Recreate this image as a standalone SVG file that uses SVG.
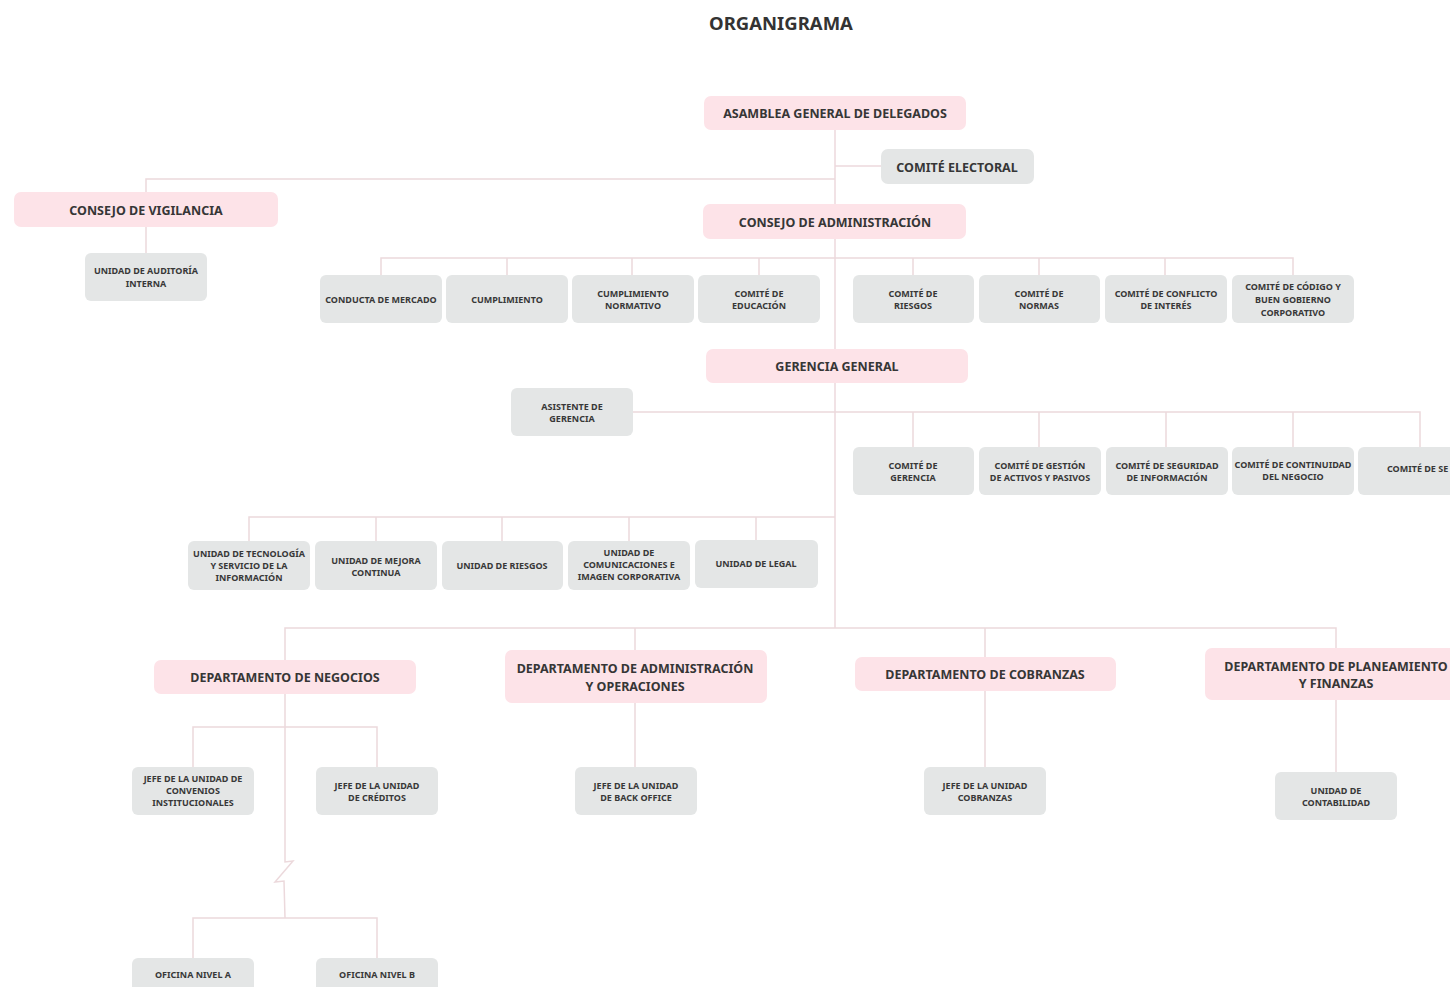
<svg xmlns="http://www.w3.org/2000/svg" width="1450" height="987" viewBox="0 0 1450 987">
<style>
text{font-family:"Noto Sans","Open Sans","Liberation Sans",sans-serif;font-weight:bold;text-anchor:middle;dominant-baseline:central}
.p{fill:#fde3e8}
.g{fill:#e4e6e6}
.t{font-size:12.5px;fill:#363636}
.m{font-size:12.5px;fill:#363636}
.s{font-size:9px;fill:#383838}
.title{font-size:18.5px;fill:#333}
.c{fill:none;stroke:#ecd9dc;stroke-width:1.5}
</style>
<rect width="1450" height="987" fill="#ffffff"/>
<text class="title" x="781" y="22">ORGANIGRAMA</text>

<g id="connectors">
<path class="c" d="M835 130V628"/>
<path class="c" d="M835 166H881"/>
<path class="c" d="M835 179H146V192M146 227V253"/>
<path class="c" d="M381 275V258H1293V275M507 258V275M632 258V275M759 258V275M913 258V275M1039 258V275M1165 258V275"/>
<path class="c" d="M633 412H1420V447M913 412V447M1039 412V447M1166 412V447M1293 412V447"/>
<path class="c" d="M835 517H249V541M376 517V541M502 517V541M629 517V541M756 517V540"/>
<path class="c" d="M285 660V628H1336V648M635 628V650M985 628V657"/>
<path class="c" d="M285 694V862L293 861L275 882L284 881L285 918"/>
<path class="c" d="M193 767V727H377V767"/>
<path class="c" d="M193 958V918H377V958"/>
<path class="c" d="M635 703V767M985 691V767M1336 700V772"/>
</g>

<g id="asamblea"><rect class="p" x="704" y="96" width="262" height="34" rx="7"/><text class="t" x="835" y="113">ASAMBLEA GENERAL DE DELEGADOS</text></g>
<g id="comite-electoral"><rect class="g" x="881" y="149" width="153" height="35" rx="7"/><text class="m" x="957" y="167">COMITÉ ELECTORAL</text></g>
<g id="consejo-vigilancia"><rect class="p" x="14" y="192" width="264" height="35" rx="7"/><text class="m" x="146" y="210">CONSEJO DE VIGILANCIA</text></g>
<g id="auditoria"><rect class="g" x="85" y="253" width="122" height="48" rx="6"/><text class="s" x="146" y="270">UNIDAD DE AUDITORÍA</text><text class="s" x="146" y="283">INTERNA</text></g>
<g id="consejo-administracion"><rect class="p" x="703" y="204" width="263" height="35" rx="7"/><text class="m" x="835" y="222">CONSEJO DE ADMINISTRACIÓN</text></g>

<g id="conducta-mercado"><rect class="g" x="320" y="275" width="122" height="48" rx="6"/><text class="s" x="381" y="299">CONDUCTA DE MERCADO</text></g>
<g id="cumplimiento"><rect class="g" x="446" y="275" width="122" height="48" rx="6"/><text class="s" x="507" y="299">CUMPLIMIENTO</text></g>
<g id="cumplimiento-normativo"><rect class="g" x="572" y="275" width="122" height="48" rx="6"/><text class="s" x="633" y="293">CUMPLIMIENTO</text><text class="s" x="633" y="305">NORMATIVO</text></g>
<g id="comite-educacion"><rect class="g" x="698" y="275" width="122" height="48" rx="6"/><text class="s" x="759" y="293">COMITÉ DE</text><text class="s" x="759" y="305">EDUCACIÓN</text></g>
<g id="comite-riesgos"><rect class="g" x="853" y="275" width="121" height="48" rx="6"/><text class="s" x="913" y="293">COMITÉ DE</text><text class="s" x="913" y="305">RIESGOS</text></g>
<g id="comite-normas"><rect class="g" x="979" y="275" width="121" height="48" rx="6"/><text class="s" x="1039" y="293">COMITÉ DE</text><text class="s" x="1039" y="305">NORMAS</text></g>
<g id="comite-conflicto"><rect class="g" x="1105" y="275" width="122" height="48" rx="6"/><text class="s" x="1166" y="293">COMITÉ DE CONFLICTO</text><text class="s" x="1166" y="305">DE INTERÉS</text></g>
<g id="comite-codigo"><rect class="g" x="1232" y="275" width="122" height="48" rx="6"/><text class="s" x="1293" y="286">COMITÉ DE CÓDIGO Y</text><text class="s" x="1293" y="299">BUEN GOBIERNO</text><text class="s" x="1293" y="312">CORPORATIVO</text></g>

<g id="gerencia-general"><rect class="p" x="706" y="349" width="262" height="34" rx="7"/><text class="m" x="837" y="366">GERENCIA GENERAL</text></g>
<g id="asistente"><rect class="g" x="511" y="388" width="122" height="48" rx="6"/><text class="s" x="572" y="406">ASISTENTE DE</text><text class="s" x="572" y="418">GERENCIA</text></g>

<g id="comite-gerencia"><rect class="g" x="853" y="447" width="121" height="48" rx="6"/><text class="s" x="913" y="465">COMITÉ DE</text><text class="s" x="913" y="477">GERENCIA</text></g>
<g id="comite-gestion"><rect class="g" x="979" y="447" width="122" height="48" rx="6"/><text class="s" x="1040" y="465">COMITÉ DE GESTIÓN</text><text class="s" x="1040" y="477">DE ACTIVOS Y PASIVOS</text></g>
<g id="comite-seguridad"><rect class="g" x="1106" y="447" width="122" height="48" rx="6"/><text class="s" x="1167" y="465">COMITÉ DE SEGURIDAD</text><text class="s" x="1167" y="477">DE INFORMACIÓN</text></g>
<g id="comite-continuidad"><rect class="g" x="1232" y="447" width="122" height="48" rx="6"/><text class="s" x="1293" y="464">COMITÉ DE CONTINUIDAD</text><text class="s" x="1293" y="476">DEL NEGOCIO</text></g>
<g id="comite-se"><rect class="g" x="1358" y="447" width="122" height="48" rx="6"/><text class="s" x="1387" y="468" style="text-anchor:start">COMITÉ DE SE</text></g>

<g id="unidad-tecnologia"><rect class="g" x="188" y="541" width="122" height="49" rx="6"/><text class="s" x="249" y="553">UNIDAD DE TECNOLOGÍA</text><text class="s" x="249" y="565">Y SERVICIO DE LA</text><text class="s" x="249" y="577">INFORMACIÓN</text></g>
<g id="unidad-mejora"><rect class="g" x="315" y="541" width="122" height="49" rx="6"/><text class="s" x="376" y="560">UNIDAD DE MEJORA</text><text class="s" x="376" y="572">CONTINUA</text></g>
<g id="unidad-riesgos"><rect class="g" x="442" y="541" width="121" height="49" rx="6"/><text class="s" x="502" y="565">UNIDAD DE RIESGOS</text></g>
<g id="unidad-comunicaciones"><rect class="g" x="568" y="541" width="122" height="49" rx="6"/><text class="s" x="629" y="552">UNIDAD DE</text><text class="s" x="629" y="564">COMUNICACIONES E</text><text class="s" x="629" y="576">IMAGEN CORPORATIVA</text></g>
<g id="unidad-legal"><rect class="g" x="695" y="540" width="123" height="48" rx="6"/><text class="s" x="756" y="563">UNIDAD DE LEGAL</text></g>

<g id="dep-negocios"><rect class="p" x="154" y="660" width="262" height="34" rx="7"/><text class="t" x="285" y="677">DEPARTAMENTO DE NEGOCIOS</text></g>
<g id="dep-administracion"><rect class="p" x="505" y="650" width="262" height="53" rx="7"/><text class="t" x="635" y="668">DEPARTAMENTO DE ADMINISTRACIÓN</text><text class="t" x="635" y="686">Y OPERACIONES</text></g>
<g id="dep-cobranzas"><rect class="p" x="855" y="657" width="261" height="34" rx="7"/><text class="t" x="985" y="674">DEPARTAMENTO DE COBRANZAS</text></g>
<g id="dep-planeamiento"><rect class="p" x="1205" y="648" width="265" height="52" rx="7"/><text class="t" x="1336" y="666">DEPARTAMENTO DE PLANEAMIENTO</text><text class="t" x="1336" y="683">Y FINANZAS</text></g>

<g id="jefe-convenios"><rect class="g" x="132" y="767" width="122" height="48" rx="6"/><text class="s" x="193" y="778">JEFE DE LA UNIDAD DE</text><text class="s" x="193" y="790">CONVENIOS</text><text class="s" x="193" y="802">INSTITUCIONALES</text></g>
<g id="jefe-creditos"><rect class="g" x="316" y="767" width="122" height="48" rx="6"/><text class="s" x="377" y="785">JEFE DE LA UNIDAD</text><text class="s" x="377" y="797">DE CRÉDITOS</text></g>
<g id="jefe-back-office"><rect class="g" x="575" y="767" width="122" height="48" rx="6"/><text class="s" x="636" y="785">JEFE DE LA UNIDAD</text><text class="s" x="636" y="797">DE BACK OFFICE</text></g>
<g id="jefe-cobranzas"><rect class="g" x="924" y="767" width="122" height="48" rx="6"/><text class="s" x="985" y="785">JEFE DE LA UNIDAD</text><text class="s" x="985" y="797">COBRANZAS</text></g>
<g id="unidad-contabilidad"><rect class="g" x="1275" y="772" width="122" height="48" rx="6"/><text class="s" x="1336" y="790">UNIDAD DE</text><text class="s" x="1336" y="802">CONTABILIDAD</text></g>

<g id="oficina-a"><rect class="g" x="132" y="958" width="122" height="44" rx="6"/><text class="s" x="193" y="974">OFICINA NIVEL A</text></g>
<g id="oficina-b"><rect class="g" x="316" y="958" width="122" height="44" rx="6"/><text class="s" x="377" y="974">OFICINA NIVEL B</text></g>
</svg>
